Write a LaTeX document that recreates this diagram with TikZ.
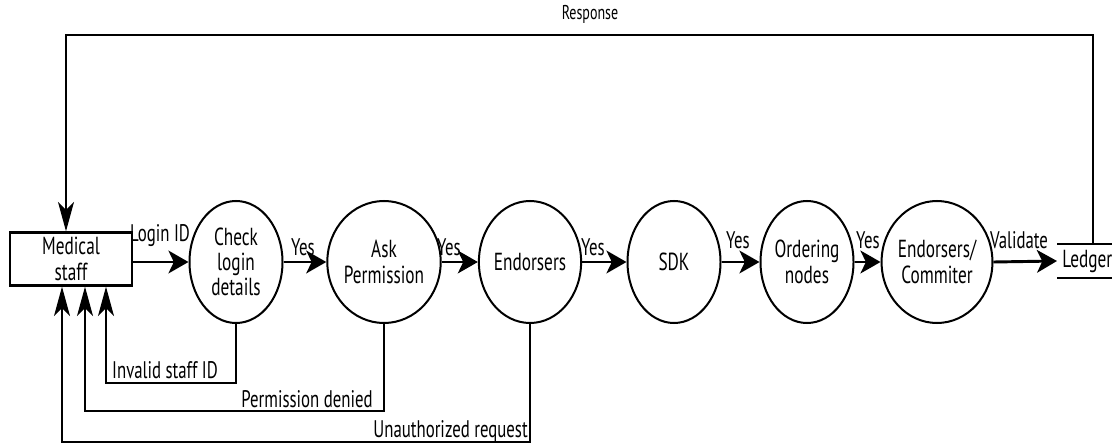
\documentclass[tikz,border=0pt]{standalone}
\usepackage{fontspec}
\setmainfont{PT Sans}[FakeStretch=0.7]
\usetikzlibrary{shapes.geometric,arrows.meta}
\tikzset{
  proc/.style={ellipse, draw, line width=1.5pt, minimum width=69.75pt, minimum height=91.5pt, inner sep=0pt, align=center, font=\fontsize{18.5}{19}\selectfont},
  entity/.style={rectangle, draw, line width=1.8pt, minimum width=91.5pt, minimum height=39.75pt, inner sep=0pt, align=center, font=\fontsize{18.5}{19}\selectfont},
  flow/.style={line width=2.2pt, -{Stealth[length=15pt,width=17pt,inset=4pt]}},
  back/.style={line width=1.3pt, -{Stealth[length=22pt,width=12pt,inset=6pt]}},
  lbl/.style={inner sep=0pt, font=\fontsize{18}{18}\selectfont},
  slbl/.style={inner sep=0pt, font=\fontsize{15}{15}\selectfont}
}
\begin{document}
\begin{tikzpicture}[x=0.75pt,y=-0.75pt]
\useasboundingbox (0,0) rectangle (1112,445);
\node[entity] (ms) at (71,259) {Medical\\staff};
\node[proc] (chk) at (236,262) {Check\\login\\details};
\node[proc] (ask) at (384,262) {Ask\\Permission};
\node[proc] (end) at (530,262) {Endorsers};
\node[proc] (sdk) at (674,262) {SDK};
\node[proc] (ord) at (807,262) {Ordering\\nodes};
\node[proc] (ec) at (937,262) {Endorsers/\\Commiter};
\node[minimum width=42pt, minimum height=25.5pt, inner sep=0pt, anchor=west, font=\fontsize{18.5}{19}\selectfont] (ledger) at (1057,261) {\,Ledger};
\draw[line width=1.6pt] (ledger.north west) -- (ledger.north east);
\draw[line width=1.6pt] (ledger.south west) -- (ledger.south east);
% main flow
\draw[flow] (ms.east |- chk.west) -- (chk.west);
\draw[flow] (chk.east) -- (ask.west);
\draw[flow] (ask.east) -- (end.west);
\draw[flow] (end.east) -- (sdk.west);
\draw[flow] (sdk.east) -- (ord.west);
\draw[flow] (ord.east) -- (ec.west);
\draw[flow] (ec.east) -- (ledger.west);
\node[lbl] (l1) at (160,236) {Login ID};
\node[lbl] (l2) at (303,247) {Yes};
\node[lbl] (l3) at (449,247) {Yes};
\node[lbl] (l4) at (593,247) {Yes};
\node[lbl] (l5) at (738,240) {Yes};
\node[lbl] (l6) at (868,240) {Yes};
\node[lbl] (l7) at (1019,240) {Validate};
% response
\coordinate (r1) at (1093,35);
\coordinate (r2) at (66,35);
\draw[back] (ledger.north -| r1) -- (r1) -- (r2) -- (r2 |- ms.north);
\node[slbl] (resp) at (590,14) {Response};
% returns
\coordinate (b1) at (106,383);
\coordinate (b2) at (85,411);
\coordinate (b3) at (62,442);
\draw[back] (chk.south) |- (b1) -- (b1 |- ms.south);
\draw[back] (ask.south) |- (b2) -- (b2 |- ms.south);
\draw[back] (end.south) |- (b3) -- (b3 |- ms.south);
\node[lbl, anchor=center] (i1) at (165,370) {Invalid staff ID};
\node[lbl, anchor=east] (i2) at (373,399) {Permission denied};
\node[lbl, anchor=east] (i3) at (528,431) {Unauthorized request};
\end{tikzpicture}
\end{document}
